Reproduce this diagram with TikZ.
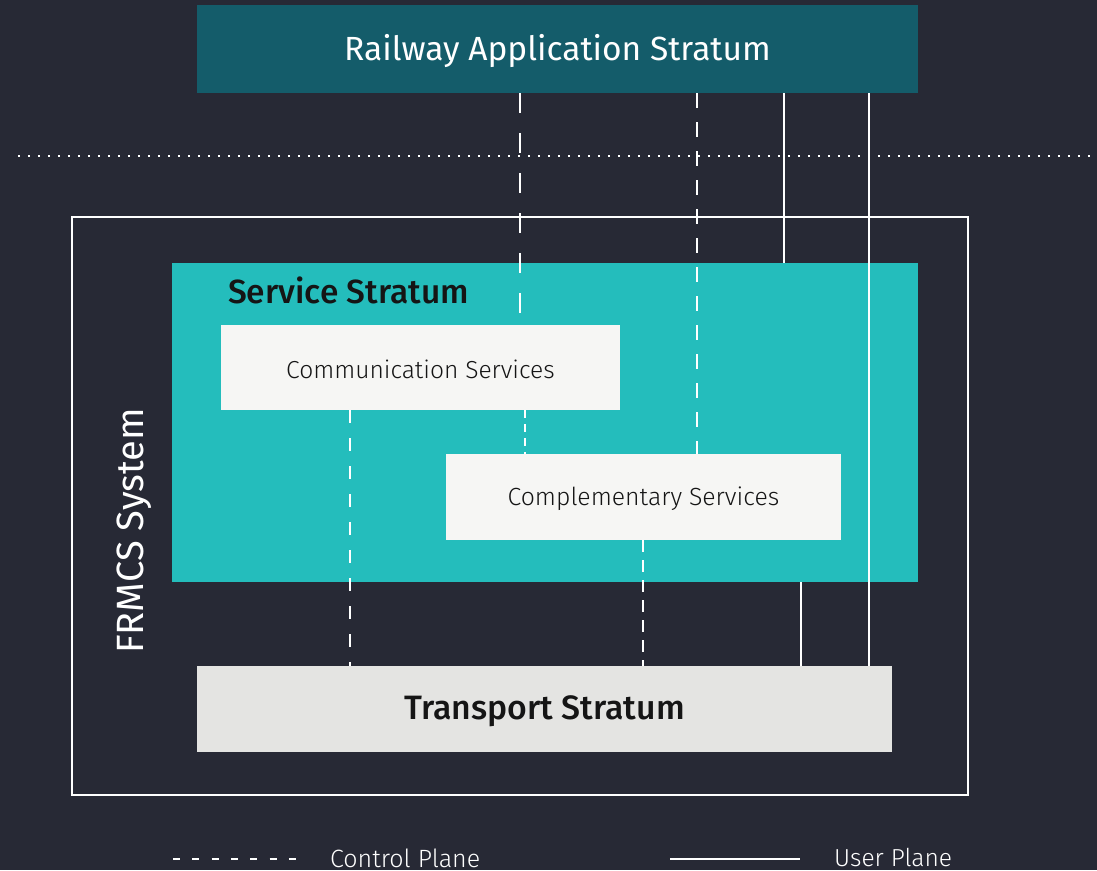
\documentclass[tikz,border=0pt]{standalone}
\usepackage{fontspec}
\setmainfont{Fira Sans}
\newfontfamily\lightf{Fira Sans Light}
\newfontfamily\medf{Fira Sans Medium}
\usetikzlibrary{calc}
\definecolor{bgc}{HTML}{272935}
\definecolor{railc}{HTML}{145C6A}
\definecolor{tealc}{HTML}{24BDBC}
\definecolor{boxc}{HTML}{F6F6F4}
\definecolor{trc}{HTML}{E4E4E2}
\definecolor{darkt}{HTML}{151515}
\tikzset{
  blk/.style={draw=none, inner sep=0pt, outer sep=0pt, anchor=north west},
  ctrl/.style={draw=white, line width=2pt},
  user/.style={draw=white, line width=2pt},
}
\begin{document}
\begin{tikzpicture}[x=1pt,y=-1pt]
\useasboundingbox (0,0) rectangle (1097,870);
\fill[bgc] (0,0) rectangle (1097,870);
% dotted separator
\coordinate (dotL) at (18,156);
\coordinate (dotR) at (1097,156);
\draw[white, line width=2pt, dash pattern=on 2pt off 8pt] (dotL) -- (dotR);
% boxes
\node[blk, fill=railc, minimum width=721pt, minimum height=88pt] (rail) at (197,5) {};
\node[font=\fontsize{33.5}{40}\selectfont, text=white] at ($(rail.center)+(0,2)$) {Railway Application Stratum};
\node[blk, draw=white, line width=2pt, minimum width=896pt, minimum height=578pt] (frmcs) at (72,217) {};
\node[blk, fill=tealc, minimum width=746pt, minimum height=319pt] (serv) at (172,263) {};
\node[anchor=base west, inner sep=0pt, font=\medf\fontsize{33.5}{40}\selectfont, text=darkt] (servt) at (228,303) {Service Stratum};
\node[blk, fill=boxc, minimum width=399pt, minimum height=85pt] (comm) at (221,325) {};
\node[font=\lightf\fontsize{24.6}{30}\selectfont, text=darkt] at ($(comm.center)+(0,2)$) {Communication Services};
\node[blk, fill=boxc, minimum width=395pt, minimum height=86pt] (compl) at (446,454) {};
\node[font=\lightf\fontsize{24.8}{30}\selectfont, text=darkt] at ($(compl.center)+(0,2)$) {Complementary Services};
\node[blk, fill=trc, minimum width=695pt, minimum height=86pt] (trans) at (197,666) {};
\node[font=\medf\fontsize{33.8}{40}\selectfont, text=darkt] at ($(trans.center)+(0,2)$) {Transport Stratum};
\node[rotate=90, inner sep=0pt, font=\fontsize{38}{44}\selectfont, text=white] (frmcst) at (134,531) {FRMCS System};
% control plane
\draw[ctrl, dash pattern=on 20pt off 20pt] (rail.south -| 520,0) -- (comm.north -| 520,0);
\draw[ctrl, dash pattern=on 15pt off 14pt] (rail.south -| 697,0) -- (compl.north -| 697,0);
\draw[ctrl, dash pattern=on 8pt off 6pt] (comm.south -| 525,0) -- (compl.north -| 525,0);
\draw[ctrl, dash pattern=on 13pt off 15pt] (comm.south -| 350,0) -- (trans.north -| 350,0);
\draw[ctrl, dash pattern=on 12pt off 8pt] (compl.south -| 643,0) -- (trans.north -| 643,0);
% user plane
\draw[user] (rail.south -| 784,0) -- (serv.north -| 784,0);
\draw[user] (rail.south -| 869,0) -- (trans.north -| 869,0);
\draw[user] (serv.south -| 801,0) -- (trans.north -| 801,0);
% legend
\coordinate (lc1) at (173,859);
\coordinate (lc2) at (300,859);
\coordinate (lu1) at (670,859);
\coordinate (lu2) at (800,859);
\draw[ctrl, dash pattern=on 7pt off 12.3pt] (lc1) -- (lc2);
\draw[user] (lu1) -- (lu2);
\node[anchor=base west, inner sep=0pt, font=\lightf\fontsize{25}{30}\selectfont, text=white] (lct) at (330,867) {Control Plane};
\node[anchor=base west, inner sep=0pt, font=\lightf\fontsize{24.6}{30}\selectfont, text=white] (lut) at (834,866) {User Plane};
\end{tikzpicture}
\end{document}
